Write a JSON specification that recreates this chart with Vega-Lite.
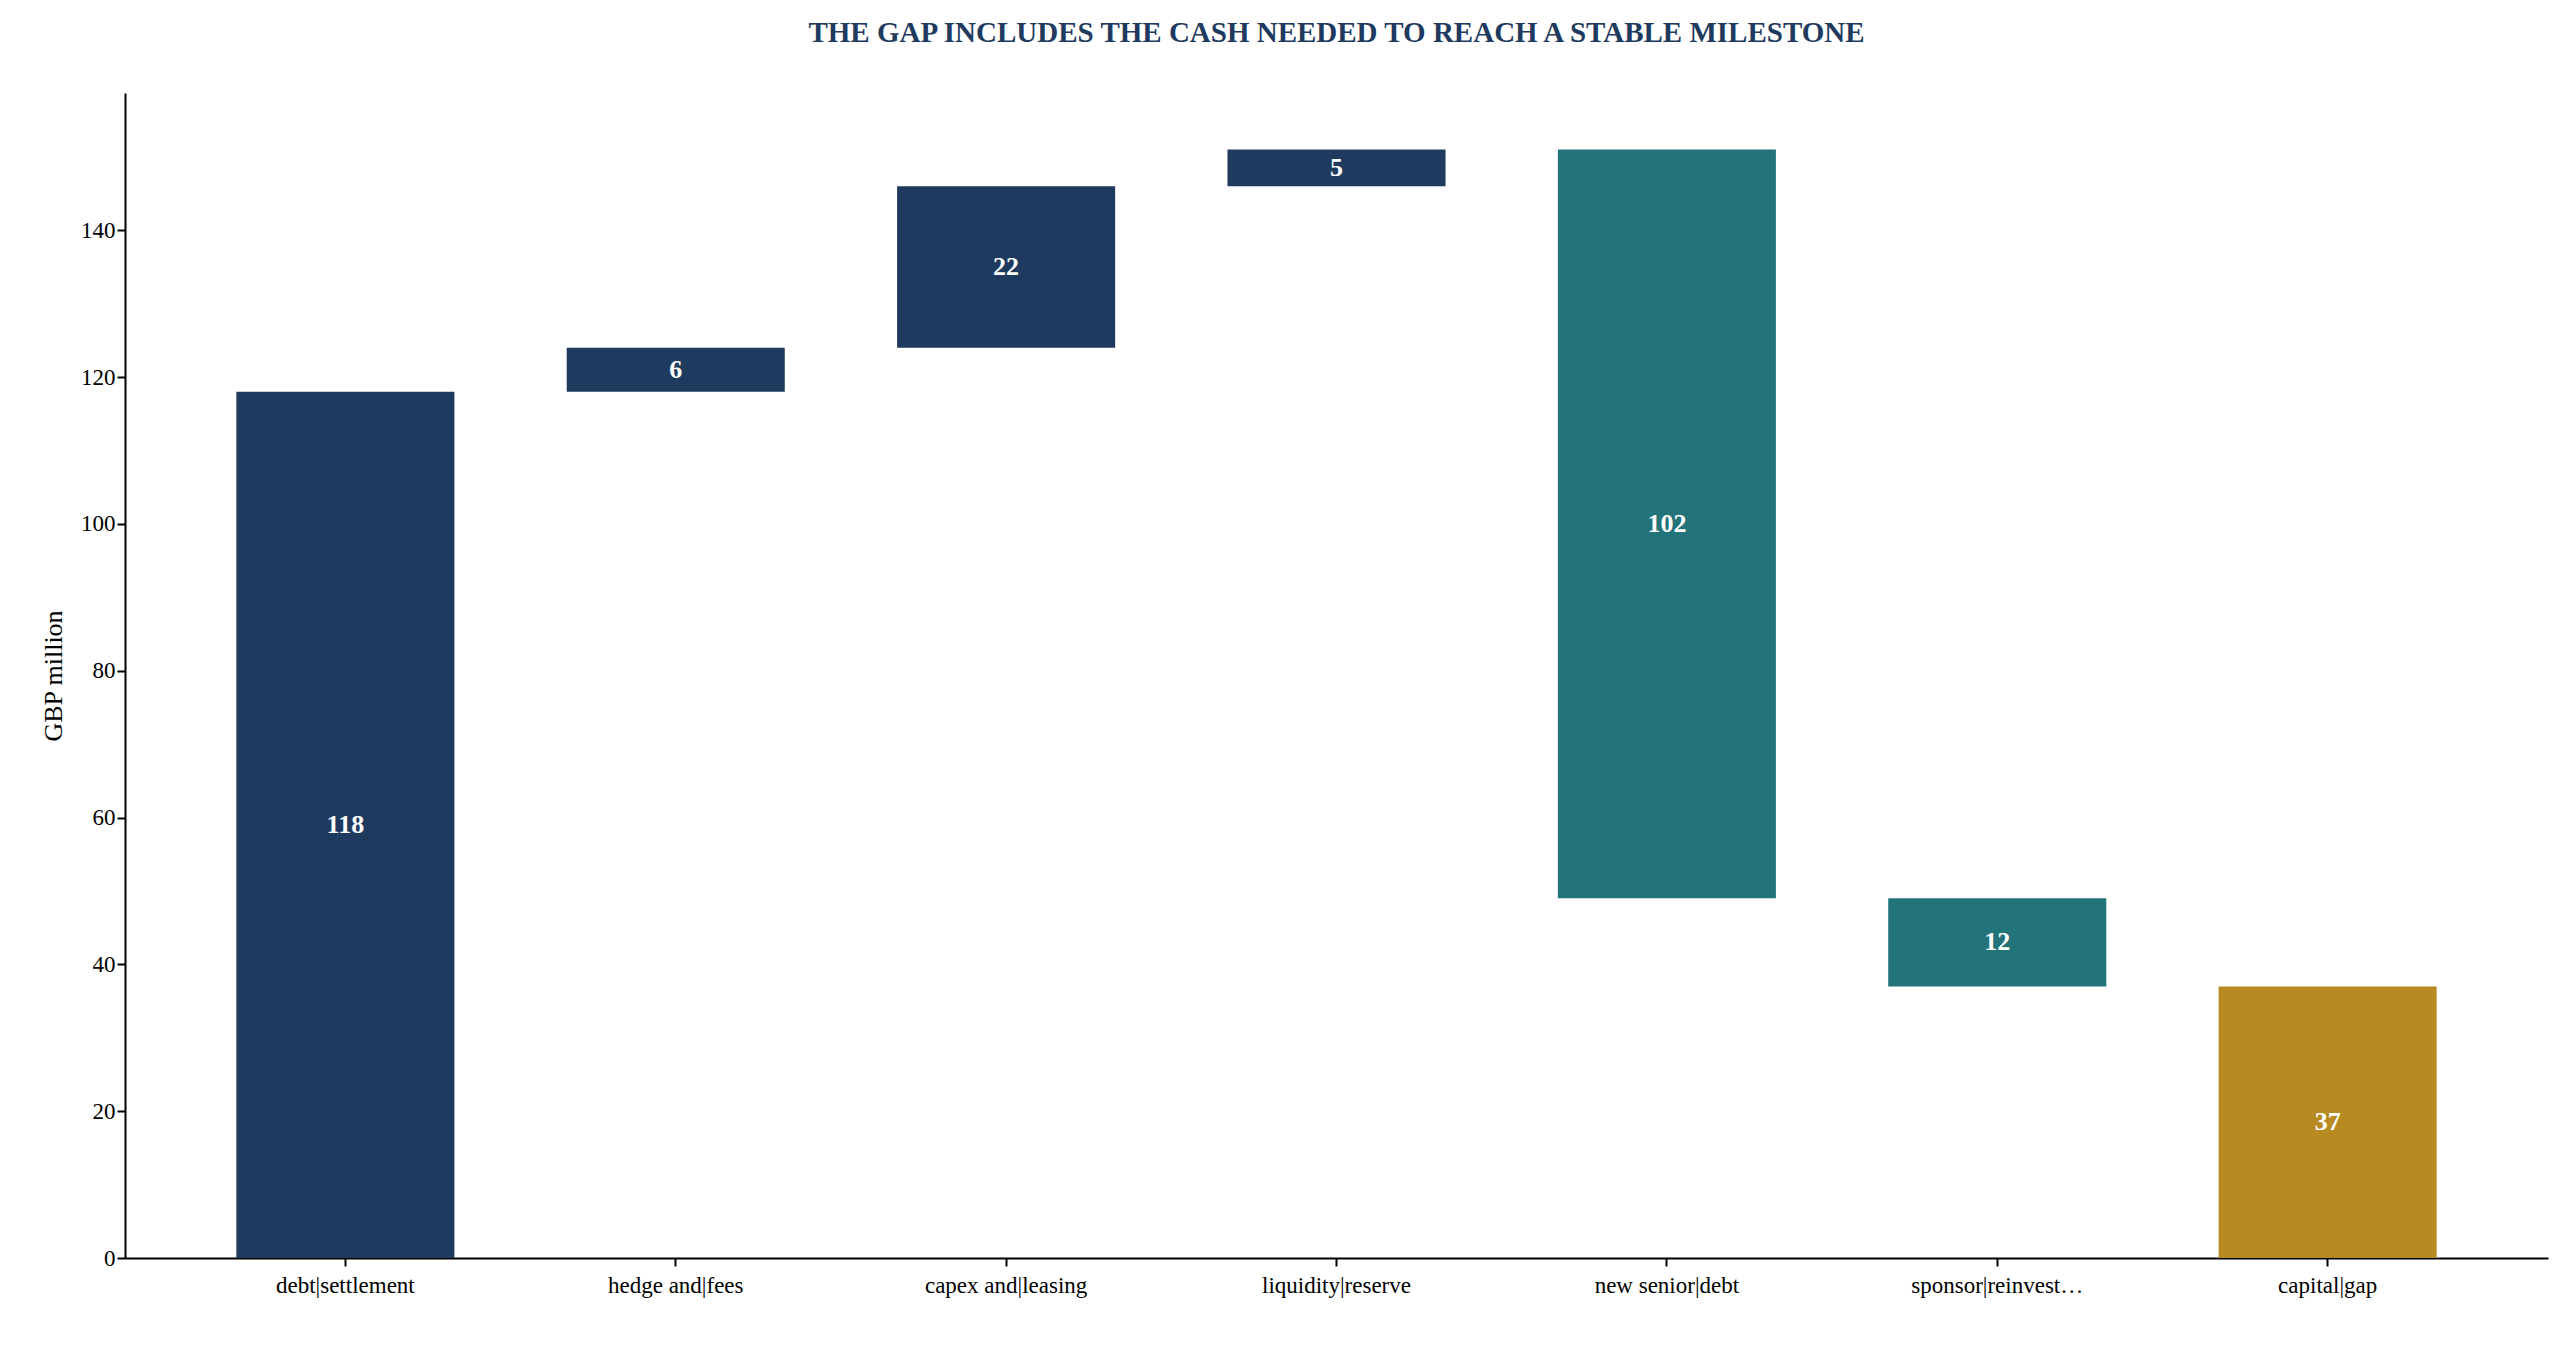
{
  "$schema": "https://vega.github.io/schema/vega-lite/v6.json",
  "width": 2423,
  "height": 1165,
  "autosize": {"type": "none"},
  "padding": {"left": 125, "top": 93, "right": 21, "bottom": 105},
  "background": "white",
  "title": {
    "text": "THE GAP INCLUDES THE CASH NEEDED TO REACH A STABLE MILESTONE",
    "font": "Liberation Serif",
    "fontSize": 29,
    "fontWeight": "bold",
    "color": "#1f3a5f",
    "offset": 45,
    "anchor": "middle"
  },
  "config": {
    "view": {"stroke": null},
    "font": "Liberation Serif",
    "axis": {
      "labelFont": "Liberation Serif",
      "titleFont": "Liberation Serif",
      "labelFontSize": 23,
      "titleFontSize": 26,
      "titleFontWeight": "normal",
      "labelColor": "black",
      "titleColor": "black",
      "domainColor": "black",
      "tickColor": "black",
      "domainWidth": 2,
      "tickWidth": 2,
      "grid": false
    }
  },
  "data": {
    "values": [
      {"step": "debt|settlement", "start": 0, "end": 118, "value": 118, "kind": "use"},
      {"step": "hedge and|fees", "start": 118, "end": 124, "value": 6, "kind": "use"},
      {"step": "capex and|leasing", "start": 124, "end": 146, "value": 22, "kind": "use"},
      {"step": "liquidity|reserve", "start": 146, "end": 151, "value": 5, "kind": "use"},
      {"step": "new senior|debt", "start": 151, "end": 49, "value": 102, "kind": "source"},
      {"step": "sponsor|reinvestment", "start": 49, "end": 37, "value": 12, "kind": "source"},
      {"step": "capital|gap", "start": 37, "end": 0, "value": 37, "kind": "gap"}
    ]
  },
  "encoding": {
    "x": {
      "field": "step",
      "type": "nominal",
      "sort": null,
      "title": null,
      "scale": {"paddingInner": 0.34, "paddingOuter": 0.337},
      "axis": {"labelAngle": 0, "labelLineHeight": 26, "labelPadding": 8, "tickSize": 8}
    }
  },
  "layer": [
    {
      "mark": {"type": "bar"},
      "encoding": {
        "y": {
          "field": "start",
          "type": "quantitative",
          "title": "GBP million",
          "scale": {"domain": [0, 158.7], "nice": false},
          "axis": {"values": [0, 20, 40, 60, 80, 100, 120, 140], "tickSize": 8, "titlePadding": 14}
        },
        "y2": {"field": "end"},
        "color": {
          "field": "kind",
          "type": "nominal",
          "legend": null,
          "scale": {"domain": ["use", "source", "gap"], "range": ["#1f3a5f", "#23737a", "#b88a22"]}
        }
      }
    },
    {
      "transform": [{"calculate": "(datum.start + datum.end) / 2", "as": "mid"}],
      "mark": {"type": "text", "color": "white", "fontWeight": "bold", "fontSize": 26, "font": "Liberation Serif"},
      "encoding": {
        "y": {"field": "mid", "type": "quantitative"},
        "text": {"field": "value", "type": "quantitative"}
      }
    }
  ],
  "resolve": {"axis": {}},
  "usermeta": {"lineBreak": "|"}
}
